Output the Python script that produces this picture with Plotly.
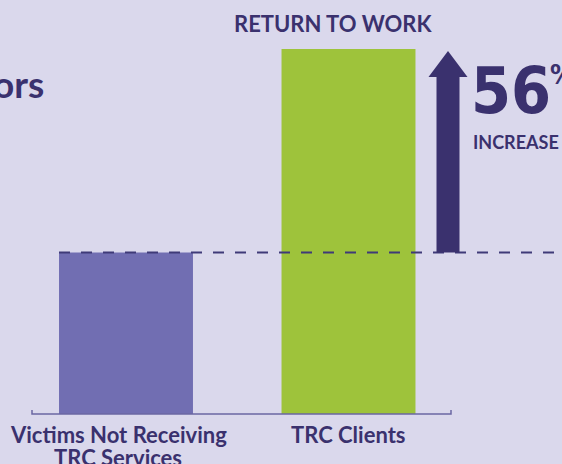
import plotly.graph_objects as go

# data: return-to-work rate, relative to victims not receiving TRC services
categories = ["Victims Not Receiving<br>TRC Services", "TRC Clients"]
return_to_work = [1.0, 1.56]
bar_colors = ["#716EB2", "#9EC33B"]
increase_pct = "56"
chart_title = "RETURN TO WORK"

DARK = "#3A316E"
BG = "#DAD8EC"
FONT = "Lato"
NARROW = "DejaVu Sans Condensed, Liberation Sans Narrow, Roboto"

W, H = 562, 464
M_L, M_R, M_T, M_B = 32, 111, 40, 50
Y_RANGE = [0.5556, 1.5848]
X_RANGE = [-0.4225, 1.4607]
PLOT_W = W - M_L - M_R
PLOT_H = H - M_T - M_B


def px_x(px):
    return (px - M_L) / PLOT_W


def px_y(py):
    return (H - M_B - py) / PLOT_H


def data_y(py):
    return Y_RANGE[0] + px_y(py) * (Y_RANGE[1] - Y_RANGE[0])


x_pos = list(range(len(categories)))

fig = go.Figure(go.Bar(
    x=x_pos,
    y=return_to_work,
    width=0.602,
    marker=dict(color=bar_colors, line=dict(width=0)),
    hoverinfo="skip",
))

# baseline (dashed) at the non-client level
base = return_to_work[0]
shapes = [
    dict(type="line", xref="paper", yref="y",
         x0=px_x(59), x1=px_x(570), y0=base, y1=base,
         line=dict(color="#3F3A78", width=2, dash="11px,11px")),
]

# arrow from baseline up to the client level
cx, shaft, head = px_x(448), 11.5 / PLOT_W, 19.5 / PLOT_W
y_head = data_y(77)
y_tip = data_y(51)
arrow = (f"M {cx - shaft},{base} L {cx - shaft},{y_head} L {cx - head},{y_head} "
         f"L {cx},{y_tip} L {cx + head},{y_head} L {cx + shaft},{y_head} "
         f"L {cx + shaft},{base} Z")
shapes.append(dict(type="path", xref="paper", yref="y", path=arrow,
                   fillcolor=DARK, line=dict(width=0)))

# axis line with small upturned ends
tk = px_y(410)
shapes.append(dict(type="path", xref="paper", yref="paper",
                   path=f"M 0,{tk} L 0,0 L 1,0 L 1,{tk}",
                   line=dict(color="#6B67A3", width=1.5)))

annotations = [
    dict(text=f"<b>{chart_title}</b>", x=px_x(333), y=px_y(23),
         font=dict(family=FONT, size=22, color=DARK)),
    dict(text="<b>ors</b>", x=px_x(46), y=px_y(83), xanchor="right",
         font=dict(family=FONT, size=37, color=DARK)),
    dict(text=f"<b>{increase_pct}</b>", x=px_x(469), y=px_y(91), xanchor="left",
         font=dict(family=NARROW, size=64, color=DARK)),
    dict(text="<b>%</b>", x=px_x(548), y=px_y(74), xanchor="left",
         font=dict(family=NARROW, size=27, color=DARK)),
    dict(text="<b>INCREASE</b>", x=px_x(471), y=px_y(142), xanchor="left",
         font=dict(family=FONT, size=18, color=DARK)),
]
for a in annotations:
    a.update(xref="paper", yref="paper", showarrow=False)
    a.setdefault("xanchor", "center")
    a.setdefault("yanchor", "middle")

# category labels, one annotation per line (tighter leading than tick labels)
for i, label in zip(x_pos, categories):
    lines = label.split("<br>")
    for j, line in enumerate(lines):
        annotations.append(dict(
            text=f"<b>{line}</b>", xref="x", yref="paper",
            x=i, y=px_y(434.5 + 23 * j), xshift=-8 if len(lines) > 1 else 0,
            xanchor="center", yanchor="middle", showarrow=False,
            font=dict(family=FONT, size=22, color=DARK)))

fig.update_layout(
    width=W, height=H,
    margin=dict(l=M_L, r=M_R, t=M_T, b=M_B),
    paper_bgcolor=BG, plot_bgcolor=BG,
    showlegend=False,
    shapes=shapes,
    annotations=annotations,
    xaxis=dict(range=X_RANGE, showticklabels=False,
               showgrid=False, zeroline=False, showline=False, ticks="",
               automargin=False, fixedrange=True),
    yaxis=dict(range=Y_RANGE, visible=False, automargin=False, fixedrange=True),
)

fig.write_html("out.html", config={"displayModeBar": False},
               post_script="document.body.style.margin='0';")
